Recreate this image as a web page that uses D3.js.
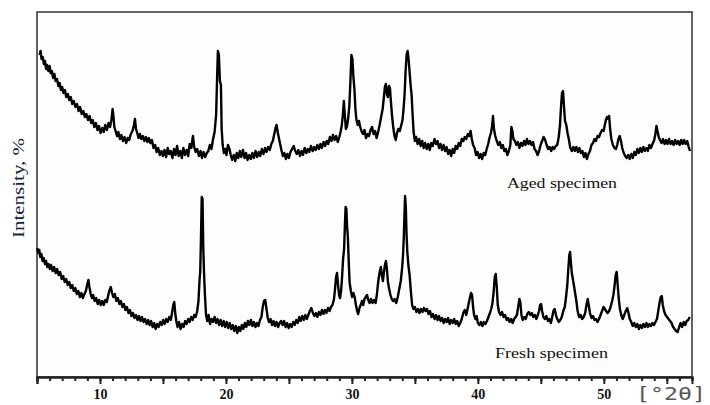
<!DOCTYPE html>
<html><head><meta charset="utf-8">
<script src="https://cdn.jsdelivr.net/npm/d3@7"></script>
<style>body{margin:0;background:#fff}</style>
</head><body><svg id="c" width="710" height="405"></svg>
<script>
// [2theta (deg), intensity (arb. units, offset traces)]
const aged = [[5.20,322],[5.28,326],[5.36,318],[5.45,320],[5.55,313],[5.63,316],[5.72,308],[5.80,312],[5.90,306],[6.00,311],[6.08,304],[6.18,306],[6.28,299],[6.38,303],[6.48,296],[6.59,298],[6.70,291],[6.80,294],[6.90,287],[7.00,290],[7.10,284],[7.22,287],[7.32,280],[7.45,283],[7.56,277],[7.68,280],[7.80,273],[7.92,276],[8.05,270],[8.18,273],[8.30,266],[8.42,270],[8.55,263],[8.68,266],[8.80,260],[8.92,263],[9.05,257],[9.18,261],[9.30,254],[9.42,257],[9.55,250],[9.68,254],[9.80,247],[9.92,251],[10.05,244],[10.18,249],[10.30,245],[10.42,252],[10.55,247],[10.68,254],[10.80,250],[10.92,258],[11.00,268],[11.06,262],[11.14,250],[11.24,246],[11.35,241],[11.46,245],[11.58,238],[11.70,242],[11.82,236],[11.95,240],[12.08,234],[12.20,239],[12.32,237],[12.45,243],[12.58,246],[12.70,252],[12.78,258],[12.86,248],[12.96,244],[13.06,239],[13.17,243],[13.28,238],[13.40,241],[13.52,236],[13.64,240],[13.76,235],[13.88,239],[14.00,234],[14.12,237],[14.25,229],[14.38,232],[14.50,225],[14.62,229],[14.75,222],[14.88,226],[15.00,221],[15.12,227],[15.25,220],[15.38,229],[15.50,223],[15.62,226],[15.75,219],[15.88,228],[16.00,222],[16.12,231],[16.25,221],[16.38,226],[16.50,219],[16.62,229],[16.75,222],[16.88,227],[17.00,221],[17.12,233],[17.25,229],[17.38,241],[17.48,230],[17.60,225],[17.72,228],[17.85,221],[17.98,226],[18.10,219],[18.22,225],[18.35,220],[18.48,224],[18.60,226],[18.72,232],[18.85,228],[18.98,238],[19.10,245],[19.22,262],[19.30,300],[19.36,326],[19.44,322],[19.52,296],[19.60,292],[19.66,248],[19.74,232],[19.84,224],[19.94,228],[20.04,222],[20.16,232],[20.28,228],[20.38,222],[20.50,217],[20.62,222],[20.74,216],[20.86,224],[20.98,219],[21.10,226],[21.22,220],[21.35,227],[21.48,219],[21.60,224],[21.72,217],[21.85,222],[21.98,218],[22.10,224],[22.22,219],[22.35,226],[22.48,220],[22.60,225],[22.72,221],[22.85,228],[22.98,223],[23.10,229],[23.22,225],[23.35,230],[23.48,227],[23.60,233],[23.72,236],[23.84,243],[23.94,249],[24.02,252],[24.12,244],[24.22,238],[24.32,232],[24.42,226],[24.52,221],[24.64,224],[24.76,218],[24.88,223],[25.00,219],[25.12,225],[25.25,228],[25.38,231],[25.50,226],[25.62,223],[25.75,227],[25.88,221],[26.00,226],[26.12,222],[26.25,229],[26.38,224],[26.50,228],[26.62,225],[26.75,231],[26.88,226],[27.00,230],[27.12,227],[27.25,232],[27.38,228],[27.50,233],[27.62,229],[27.75,235],[27.88,231],[28.00,236],[28.12,233],[28.25,240],[28.38,236],[28.50,242],[28.62,237],[28.75,241],[28.88,235],[29.00,240],[29.10,245],[29.20,252],[29.28,262],[29.36,276],[29.44,262],[29.52,248],[29.60,250],[29.70,258],[29.80,272],[29.88,295],[29.96,322],[30.04,318],[30.12,300],[30.20,288],[30.28,268],[30.36,257],[30.46,252],[30.56,256],[30.66,250],[30.76,246],[30.88,243],[31.00,247],[31.12,239],[31.24,243],[31.36,241],[31.48,247],[31.60,250],[31.72,243],[31.84,246],[31.96,239],[32.08,245],[32.20,252],[32.32,260],[32.44,268],[32.54,280],[32.62,290],[32.70,293],[32.78,283],[32.86,280],[32.94,291],[33.02,289],[33.10,275],[33.18,262],[33.28,250],[33.38,241],[33.48,237],[33.58,244],[33.68,248],[33.80,246],[33.92,252],[34.02,257],[34.10,268],[34.18,282],[34.26,305],[34.34,322],[34.42,326],[34.50,318],[34.58,305],[34.66,292],[34.74,282],[34.82,262],[34.90,245],[35.00,236],[35.10,240],[35.22,233],[35.34,238],[35.46,231],[35.58,236],[35.70,229],[35.82,234],[35.94,228],[36.06,233],[36.18,227],[36.30,234],[36.42,231],[36.56,238],[36.68,233],[36.80,236],[36.92,229],[37.04,233],[37.16,227],[37.28,232],[37.40,226],[37.52,230],[37.64,223],[37.76,227],[37.88,221],[38.00,228],[38.12,224],[38.24,231],[38.36,228],[38.48,234],[38.60,231],[38.72,238],[38.84,236],[38.96,240],[39.08,238],[39.20,243],[39.32,241],[39.42,246],[39.52,238],[39.62,232],[39.74,229],[39.86,222],[39.98,225],[40.10,219],[40.22,223],[40.34,218],[40.46,224],[40.58,222],[40.70,228],[40.82,233],[40.94,240],[41.04,244],[41.12,250],[41.20,261],[41.28,248],[41.38,241],[41.50,236],[41.62,232],[41.74,235],[41.86,229],[41.98,232],[42.10,226],[42.22,228],[42.34,222],[42.46,226],[42.58,232],[42.66,250],[42.74,246],[42.82,238],[42.94,236],[43.06,232],[43.18,235],[43.30,229],[43.42,234],[43.54,231],[43.66,236],[43.78,232],[43.90,238],[44.02,233],[44.14,236],[44.26,232],[44.38,235],[44.50,228],[44.62,226],[44.74,222],[44.86,226],[44.98,232],[45.10,236],[45.22,240],[45.34,237],[45.46,232],[45.58,228],[45.70,230],[45.82,226],[45.94,230],[46.06,228],[46.18,231],[46.30,232],[46.42,240],[46.52,252],[46.60,270],[46.68,284],[46.76,286],[46.84,270],[46.92,256],[47.02,252],[47.12,244],[47.22,238],[47.34,229],[47.46,226],[47.58,230],[47.70,226],[47.82,230],[47.94,225],[48.06,229],[48.18,224],[48.30,226],[48.42,220],[48.54,224],[48.66,218],[48.78,223],[48.90,226],[49.02,232],[49.14,234],[49.26,238],[49.38,236],[49.50,241],[49.62,240],[49.74,244],[49.86,247],[49.98,246],[50.08,252],[50.16,257],[50.26,260],[50.34,258],[50.42,261],[50.50,248],[50.60,238],[50.72,232],[50.84,229],[50.96,228],[51.06,232],[51.16,238],[51.26,241],[51.36,236],[51.46,229],[51.58,224],[51.70,221],[51.82,219],[51.94,222],[52.06,218],[52.18,223],[52.30,219],[52.42,225],[52.54,222],[52.66,228],[52.78,224],[52.90,229],[53.02,225],[53.14,230],[53.26,226],[53.38,229],[53.50,226],[53.62,232],[53.74,229],[53.86,233],[53.98,236],[54.08,242],[54.18,251],[54.26,246],[54.36,240],[54.46,237],[54.58,234],[54.70,238],[54.82,233],[54.94,237],[55.06,233],[55.18,238],[55.30,233],[55.42,236],[55.54,232],[55.66,237],[55.78,233],[55.90,236],[56.02,232],[56.14,237],[56.26,233],[56.38,237],[56.50,233],[56.62,236],[56.74,230],[56.84,226]];

const fresh = [[5.02,129],[5.10,124],[5.18,127],[5.26,120],[5.35,123],[5.44,116],[5.54,119],[5.63,113],[5.72,116],[5.82,110],[5.92,113],[6.02,108],[6.12,112],[6.24,106],[6.36,110],[6.48,104],[6.60,108],[6.72,102],[6.84,105],[6.96,98],[7.08,101],[7.20,95],[7.32,98],[7.44,92],[7.56,95],[7.68,89],[7.80,92],[7.92,86],[8.04,89],[8.16,83],[8.28,86],[8.40,80],[8.52,84],[8.64,79],[8.76,83],[8.88,86],[8.98,92],[9.08,97],[9.16,90],[9.26,83],[9.36,79],[9.46,82],[9.58,76],[9.70,79],[9.82,73],[9.94,77],[10.06,72],[10.18,76],[10.30,72],[10.42,77],[10.54,75],[10.66,82],[10.76,87],[10.86,90],[10.96,84],[11.06,80],[11.18,83],[11.30,76],[11.42,79],[11.54,73],[11.66,76],[11.78,70],[11.90,73],[12.02,67],[12.14,70],[12.26,64],[12.38,67],[12.50,61],[12.62,64],[12.74,59],[12.86,62],[12.98,57],[13.10,61],[13.22,56],[13.34,60],[13.46,55],[13.58,58],[13.70,53],[13.82,57],[13.94,52],[14.06,56],[14.18,50],[14.30,54],[14.42,48],[14.54,53],[14.66,50],[14.78,55],[14.90,52],[15.02,57],[15.14,53],[15.26,58],[15.38,55],[15.50,60],[15.62,57],[15.72,64],[15.82,72],[15.90,75],[15.98,63],[16.06,56],[16.16,50],[16.28,55],[16.40,48],[16.52,53],[16.64,50],[16.76,56],[16.88,53],[17.00,58],[17.12,55],[17.24,60],[17.36,57],[17.48,62],[17.60,60],[17.72,66],[17.82,76],[17.90,96],[17.96,106],[18.02,140],[18.08,180],[18.14,178],[18.20,130],[18.26,104],[18.34,80],[18.42,62],[18.52,56],[18.62,62],[18.74,53],[18.86,58],[18.98,55],[19.10,60],[19.22,54],[19.34,58],[19.46,52],[19.58,57],[19.70,51],[19.82,56],[19.94,50],[20.06,55],[20.18,49],[20.30,54],[20.42,48],[20.54,52],[20.66,46],[20.78,51],[20.90,44],[21.02,50],[21.14,46],[21.26,52],[21.38,48],[21.50,54],[21.62,50],[21.74,56],[21.86,52],[21.98,57],[22.10,51],[22.22,55],[22.34,50],[22.46,54],[22.58,51],[22.70,57],[22.82,60],[22.92,70],[23.02,76],[23.12,77],[23.22,68],[23.32,59],[23.42,55],[23.54,58],[23.66,52],[23.78,56],[23.90,51],[24.02,55],[24.14,50],[24.26,54],[24.38,56],[24.50,52],[24.62,56],[24.74,50],[24.86,54],[24.98,49],[25.10,53],[25.22,50],[25.34,55],[25.46,52],[25.58,57],[25.70,54],[25.82,60],[25.94,56],[26.06,61],[26.18,57],[26.30,62],[26.42,58],[26.54,62],[26.66,66],[26.78,69],[26.90,64],[27.02,61],[27.14,64],[27.26,60],[27.38,65],[27.50,62],[27.62,67],[27.74,63],[27.86,67],[27.98,64],[28.10,69],[28.22,66],[28.34,70],[28.46,72],[28.58,78],[28.66,88],[28.74,100],[28.82,104],[28.90,92],[28.98,82],[29.06,79],[29.14,86],[29.22,100],[29.30,118],[29.38,128],[29.44,150],[29.50,170],[29.56,168],[29.62,150],[29.68,140],[29.74,118],[29.82,94],[29.92,86],[30.02,80],[30.12,84],[30.22,80],[30.32,72],[30.42,66],[30.50,63],[30.60,69],[30.70,72],[30.80,76],[30.90,72],[31.00,78],[31.10,80],[31.20,82],[31.30,77],[31.40,74],[31.52,78],[31.64,74],[31.76,77],[31.88,74],[31.98,82],[32.06,92],[32.14,100],[32.22,106],[32.30,110],[32.38,102],[32.46,96],[32.54,104],[32.62,112],[32.70,116],[32.78,108],[32.86,95],[32.96,88],[33.06,82],[33.16,78],[33.28,76],[33.40,78],[33.52,74],[33.64,80],[33.76,88],[33.88,96],[33.98,108],[34.06,122],[34.12,140],[34.18,165],[34.22,181],[34.28,170],[34.34,142],[34.40,125],[34.48,112],[34.58,102],[34.68,86],[34.78,72],[34.88,68],[35.00,70],[35.12,65],[35.24,68],[35.36,64],[35.48,68],[35.60,65],[35.72,69],[35.84,66],[35.96,68],[36.08,63],[36.20,66],[36.32,60],[36.44,63],[36.56,58],[36.68,62],[36.80,57],[36.92,61],[37.04,56],[37.16,59],[37.28,54],[37.40,58],[37.52,55],[37.64,59],[37.76,53],[37.88,57],[38.00,54],[38.12,58],[38.24,53],[38.36,56],[38.48,51],[38.60,54],[38.72,58],[38.84,64],[38.96,67],[39.08,62],[39.18,68],[39.28,74],[39.38,80],[39.46,84],[39.54,82],[39.62,70],[39.70,62],[39.80,58],[39.90,61],[40.00,54],[40.12,52],[40.24,55],[40.36,51],[40.48,55],[40.60,53],[40.72,56],[40.84,60],[40.96,64],[41.06,68],[41.16,74],[41.26,86],[41.34,100],[41.42,103],[41.50,90],[41.58,72],[41.68,65],[41.80,62],[41.92,65],[42.04,60],[42.16,62],[42.28,57],[42.40,59],[42.52,55],[42.64,58],[42.76,54],[42.88,58],[43.00,60],[43.10,62],[43.20,70],[43.30,78],[43.38,74],[43.46,62],[43.56,57],[43.68,60],[43.80,58],[43.92,63],[44.04,65],[44.16,62],[44.28,64],[44.40,60],[44.52,62],[44.64,58],[44.76,62],[44.86,66],[44.94,72],[45.02,73],[45.10,66],[45.20,60],[45.32,58],[45.44,61],[45.56,56],[45.68,58],[45.80,54],[45.90,60],[46.00,66],[46.10,68],[46.20,62],[46.30,58],[46.42,55],[46.54,57],[46.66,60],[46.78,66],[46.90,70],[47.00,80],[47.10,92],[47.18,108],[47.26,122],[47.32,125],[47.38,115],[47.46,104],[47.54,98],[47.62,92],[47.72,84],[47.82,76],[47.92,66],[48.04,60],[48.16,62],[48.28,58],[48.40,60],[48.52,64],[48.62,72],[48.72,78],[48.80,72],[48.90,64],[49.02,59],[49.14,61],[49.26,57],[49.38,58],[49.50,55],[49.62,58],[49.74,62],[49.86,66],[49.98,70],[50.08,68],[50.18,66],[50.30,64],[50.42,66],[50.54,70],[50.66,76],[50.76,82],[50.86,92],[50.94,102],[51.02,105],[51.10,92],[51.18,79],[51.28,68],[51.38,62],[51.50,58],[51.62,62],[51.74,66],[51.86,69],[51.96,64],[52.06,58],[52.18,55],[52.30,51],[52.42,54],[52.54,50],[52.66,53],[52.78,48],[52.90,52],[53.02,49],[53.14,53],[53.26,50],[53.38,54],[53.50,50],[53.62,53],[53.74,51],[53.86,54],[53.98,52],[54.10,55],[54.22,58],[54.32,66],[54.42,74],[54.52,80],[54.60,81],[54.68,72],[54.78,66],[54.90,62],[55.02,60],[55.14,58],[55.26,56],[55.38,54],[55.50,50],[55.62,48],[55.74,46],[55.86,45],[55.98,50],[56.10,54],[56.22,50],[56.34,55],[56.46,52],[56.58,56],[56.70,57],[56.82,60]];

const xTickLabels = [10, 20, 30, 40, 50];
const xUnitLabel = "[°2θ]";
const yAxisLabel = "Intensity, %";
const seriesLabels = ["Aged specimen", "Fresh specimen"];

const svg = d3.select("#c");
const x = d3.scaleLinear().domain([5, 57]).range([37, 692]);
const y = d3.scaleLinear().domain([0, 365]).range([377, 12]);

svg.append("rect").attr("x", 37).attr("y", 12).attr("width", 655).attr("height", 365)
  .attr("fill", "#fdfdfb").attr("stroke", "#3c3c3c").attr("stroke-width", 1.6);

// minor & major ticks
const minor = d3.axisBottom(x).tickValues(d3.range(5, 58, 1)).tickSize(4).tickFormat("");
const major = d3.axisBottom(x).tickValues(d3.range(5, 58, 5)).tickSize(7).tickFormat("");
[minor, major].forEach(ax => {
  const g = svg.append("g").attr("transform", "translate(0,377)").call(ax);
  g.select(".domain").attr("stroke", "#222").attr("stroke-width", 2);
  g.selectAll(".tick line").attr("stroke", "#222").attr("stroke-width", 2);
});
const lab = d3.axisBottom(x).tickValues(xTickLabels).tickSize(0).tickPadding(12).tickFormat(d3.format("d"));
const gl = svg.append("g").attr("transform", "translate(0,377)").call(lab);
gl.select(".domain").remove();
gl.selectAll("text").attr("font-family", "Liberation Serif, serif").attr("font-weight", "bold")
  .attr("font-size", 14).attr("fill", "#111");

const line = d3.line().x(d => x(d[0])).y(d => y(d[1]));
[aged, fresh].forEach(s => {
  svg.append("path").datum(s).attr("d", line).attr("fill", "none")
    .attr("stroke", "#000").attr("stroke-width", 2.4).attr("stroke-linejoin", "round");
});

svg.append("text").attr("x", 507).attr("y", 188).attr("textLength", 110).attr("lengthAdjust", "spacingAndGlyphs")
  .attr("font-family", "Liberation Serif, serif").attr("font-size", 15).attr("fill", "#111").text(seriesLabels[0]);
svg.append("text").attr("x", 495).attr("y", 358).attr("textLength", 113).attr("lengthAdjust", "spacingAndGlyphs")
  .attr("font-family", "Liberation Serif, serif").attr("font-size", 15).attr("fill", "#111").text(seriesLabels[1]);

svg.append("text").attr("transform", "translate(24,188) rotate(-90)").attr("text-anchor", "middle")
  .attr("textLength", 100).attr("lengthAdjust", "spacingAndGlyphs")
  .attr("font-family", "Liberation Serif, serif").attr("font-size", 16).attr("fill", "#1c1c40").text(yAxisLabel);

svg.append("text").attr("x", 636).attr("y", 400).attr("textLength", 70).attr("lengthAdjust", "spacingAndGlyphs")
  .attr("font-family", "DejaVu Sans Mono, monospace").attr("font-size", 17).attr("fill", "#555").text(xUnitLabel);
</script></body></html>
